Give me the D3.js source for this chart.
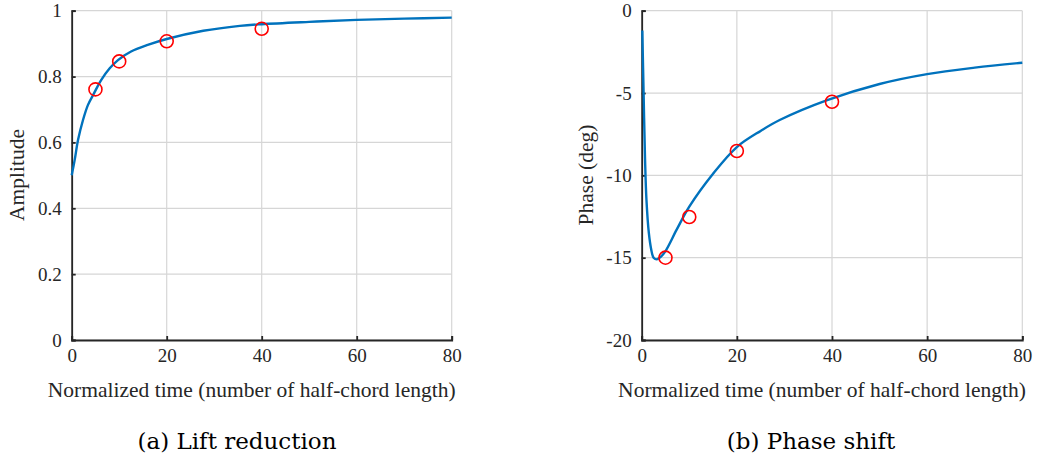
<!DOCTYPE html>
<html>
<head>
<meta charset="utf-8">
<script src="https://cdn.jsdelivr.net/npm/d3@7"></script>
<style>
  body { margin: 0; background: #fff; }
  svg { display: block; }
</style>
</head>
<body>
<svg id="chart" width="1039" height="461"></svg>
<script>
// curve values
const ampT = [0, 0.63, 1.33, 2.38, 3.43, 4.69, 6.23, 8, 9.74, 12.5, 16, 20, 27.7, 35.4, 40, 50, 60, 70, 80];
const ampV = [0.5, 0.547, 0.607, 0.668, 0.714, 0.749, 0.79, 0.825, 0.85, 0.876, 0.896, 0.914, 0.939, 0.954, 0.959, 0.966, 0.972, 0.976, 0.979];
const ampMarkT = [5, 10, 20, 40];
const ampMarkV = [0.761, 0.846, 0.907, 0.945];

const phT = [0.13, 0.4, 0.7, 1.0, 1.5, 2.0, 2.5, 3.2, 4, 5, 7.35, 10, 15, 20, 25, 29, 39, 50, 60, 70, 80];
const phV = [-1.2, -5, -9, -11.5, -13.5, -14.5, -15.0, -15.1, -14.95, -14.6, -13.3, -11.9, -9.9, -8.28, -7.3, -6.64, -5.43, -4.45, -3.85, -3.46, -3.16];
const phMarkT = [5, 10, 20, 40];
const phMarkV = [-15.0, -12.53, -8.52, -5.53];

const xTicks = [0, 20, 40, 60, 80];
const ampTicks = [0, 0.2, 0.4, 0.6, 0.8, 1];
const phTicks = [-20, -15, -10, -5, 0];

const SERIF = "'Liberation Serif', 'Times New Roman', serif";
const svg = d3.select("#chart");

function panel(opts) {
  const x = d3.scaleLinear().domain([0, 80]).range([opts.left, opts.right]);
  const y = d3.scaleLinear().domain(opts.yDomain).range([340, 10.7]);
  const g = svg.append("g");

  // grid
  g.append("g").selectAll("line").data(xTicks).join("line")
    .attr("x1", (d) => x(d)).attr("x2", (d) => x(d))
    .attr("y1", y.range()[0]).attr("y2", y.range()[1])
    .attr("stroke", "#d6d6d6").attr("stroke-width", 1.2);
  g.append("g").selectAll("line").data(opts.yTicks).join("line")
    .attr("y1", (d) => y(d)).attr("y2", (d) => y(d))
    .attr("x1", x.range()[0]).attr("x2", x.range()[1])
    .attr("stroke", "#d6d6d6").attr("stroke-width", 1.2);

  // axes
  const xAxis = g.append("g")
    .attr("transform", `translate(0, ${y.range()[0]})`)
    .call(d3.axisBottom(x).tickValues(xTicks).tickSize(-4).tickPadding(11).tickFormat(d3.format("d")));
  const yAxis = g.append("g")
    .attr("transform", `translate(${x.range()[0]}, 0)`)
    .call(d3.axisLeft(y).tickValues(opts.yTicks).tickSize(-4).tickPadding(10).tickFormat(opts.fmt));
  [xAxis, yAxis].forEach((a) => {
    a.attr("font-family", SERIF).attr("font-size", 19);
    a.select(".domain").attr("stroke", "#262626").attr("stroke-width", 1.8);
    a.selectAll(".tick line").attr("stroke", "#262626").attr("stroke-width", 1.8);
    a.selectAll(".tick text").attr("fill", "#262626");
  });
  xAxis.selectAll(".tick text").attr("dy", "0.6em");

  // curve
  const line = d3.line()
    .x((d) => x(d[0])).y((d) => y(d[1]))
    .curve(d3.curveCatmullRom.alpha(0.5));
  g.append("path")
    .datum(d3.zip(opts.t, opts.v))
    .attr("fill", "none").attr("stroke", "#0072BD").attr("stroke-width", 2.4)
    .attr("d", line);

  // markers
  g.append("g").selectAll("circle").data(d3.zip(opts.mt, opts.mv)).join("circle")
    .attr("cx", (d) => x(d[0])).attr("cy", (d) => y(d[1])).attr("r", 6.5)
    .attr("fill", "none").attr("stroke", "#ff0000").attr("stroke-width", 1.6);

  // labels
  const cx = (x.range()[0] + x.range()[1]) / 2;
  g.append("text").attr("x", cx - 10).attr("y", 397)
    .attr("text-anchor", "middle").attr("fill", "#262626")
    .attr("font-family", SERIF).attr("font-size", 21.5)
    .text("Normalized time (number of half-chord length)");
  g.append("text")
    .attr("transform", `translate(${opts.yLabelX}, 175) rotate(-90)`)
    .attr("text-anchor", "middle").attr("fill", "#262626")
    .attr("font-family", SERIF).attr("font-size", 21.5)
    .text(opts.yLabel);
  svg.append("text").attr("x", opts.capX).attr("y", 449)
    .attr("text-anchor", "middle").attr("fill", "#000")
    .attr("font-family", "'DejaVu Serif', serif").attr("font-size", 23)
    .text(opts.caption);
}

panel({
  left: 71.7, right: 451.7, yDomain: [0, 1], yTicks: ampTicks,
  fmt: (d) => d3.format("")(d),
  t: ampT, v: ampV, mt: ampMarkT, mv: ampMarkV,
  yLabel: "Amplitude", yLabelX: 24, caption: "(a) Lift reduction", capX: 237,
});
panel({
  left: 641.7, right: 1022.3, yDomain: [-20, 0], yTicks: phTicks,
  fmt: (d) => d3.format("")(d).replace("\u2212", "-"),
  t: phT, v: phV, mt: phMarkT, mv: phMarkV,
  yLabel: "Phase (deg)", yLabelX: 593, caption: "(b) Phase shift", capX: 811,
});
</script>
</body>
</html>
